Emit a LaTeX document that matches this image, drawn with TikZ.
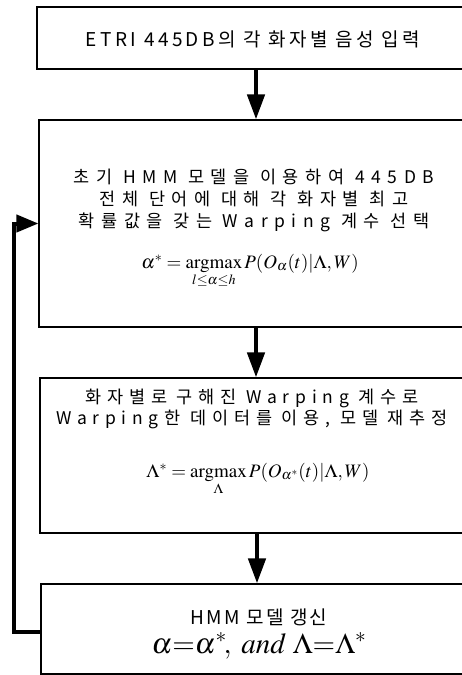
\documentclass[tikz,border=0pt]{standalone}
\usepackage{mathptmx}
\usepackage[no-math]{fontspec}
\setmainfont{Noto Sans CJK KR}
\usetikzlibrary{arrows.meta}
\tikzset{
  box/.style={draw=black, line width=1.1pt, rectangle, inner sep=0pt},
  txt/.style={inner sep=0pt, align=center},
  mth/.style={inner sep=0pt, font=\fontsize{19}{22}\selectfont},
  flow/.style={line width=4.5pt, -{Triangle[length=25pt,width=17pt]}},
  fb/.style={line width=4pt, -{Triangle[length=22pt,width=17pt]}}
}
\begin{document}
\begin{tikzpicture}[x=1pt,y=-1pt]
\useasboundingbox (0,0) rectangle (462,675);
\clip (0,0) rectangle (462,675);
\node[box, minimum width=443pt, minimum height=62pt] (b1) at (258.5,38) {};
\node[box, minimum width=441pt, minimum height=207pt] (b2) at (259.5,223.5) {};
\node[box, minimum width=440pt, minimum height=155pt] (b3) at (260,455.5) {};
\node[box, minimum width=439pt, minimum height=90pt] (b4) at (260.5,629) {};

\node[txt, font=\fontsize{19}{22}\selectfont\addfontfeature{LetterSpace=18}] (t1) at (253,39) {ETRI 445DB의 각 화자별 음성 입력};
\node[txt, font=\fontsize{17.5}{22}\selectfont\addfontfeature{LetterSpace=38}] (t2) at (254,200) {초기 HMM 모델을 이용하여 445DB\\전체 단어에 대해 각 화자별 최고\\확률값을 갖는 Warping 계수 선택};
\node[mth, anchor=base] (f2) at (250,268) {$\alpha^{*}=\mathop{\mathrm{argmax}}\limits_{l\le\alpha\le h}P(O_{\alpha}(t)|\Lambda,W)$};
\node[txt, font=\fontsize{17.5}{21}\selectfont\addfontfeature{LetterSpace=33}] (t3) at (252,409) {화자별로 구해진 Warping 계수로\\Warping한 데이터를 이용, 모델 재추정};
\node[mth, anchor=base] (f3) at (258,477) {$\Lambda^{*}=\mathop{\mathrm{argmax}}\limits_{\Lambda}P(O_{\alpha^{*}}(t)|\Lambda,W)$};
\node[txt, font=\fontsize{19}{22}\selectfont\addfontfeature{LetterSpace=12}] (t4) at (259,617) {HMM 모델 갱신};
\node[inner sep=0pt, font=\fontsize{29}{32}\selectfont, anchor=base] (f4) at (259,653) {$\alpha{=}\alpha^{*}\!,\ and\ \Lambda{=}\Lambda^{*}$};

\draw[flow] (b1.south -| 256,0) -- (b2.north -| 256,0);
\draw[flow] (b2.south -| 256,0) -- (b3.north -| 256,0);
\draw[flow] (b3.south -| 257,0) -- (b4.north -| 257,0);

\coordinate (c2) at (14,223.5);
\draw[fb] ([yshift=-3pt]b4.west) -| (c2) -- (b2.west);
\end{tikzpicture}
\end{document}
